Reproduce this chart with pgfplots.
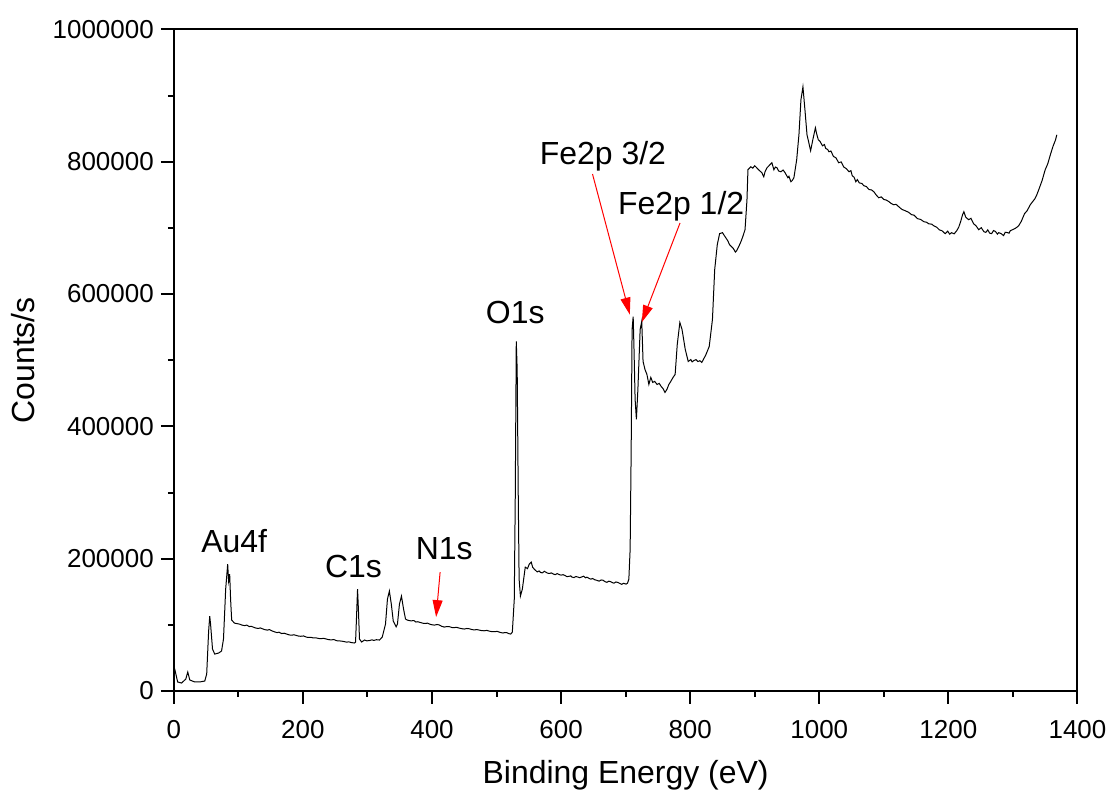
\documentclass[border=0pt]{standalone}
\usepackage{fontspec}
\setmainfont{Liberation Sans}
\usepackage{pgfplots}
\pgfplotsset{compat=1.18}
\usetikzlibrary{arrows.meta}

\begin{document}
\begin{tikzpicture}
\begin{axis}[
  scale only axis, width=452.5pt, height=331.25pt,
  xmin=0, xmax=1400, ymin=0, ymax=1000000,
  xtick={0,200,...,1400}, ytick={0,200000,...,1000000},
  minor x tick num=1, minor y tick num=1,
  tick align=outside, tick pos=left,
  major tick length=6.5pt, minor tick length=3pt,
  axis line style={line width=1pt},
  every tick/.style={black, line width=1pt},
  scaled y ticks=false, scaled x ticks=false,
  /pgf/number format/fixed, /pgf/number format/1000 sep={},
  /pgf/number format/assume math mode=true,
  tick label style={font=\fontsize{13}{15}\selectfont},
  xticklabel style={yshift=-4.5pt},
  xlabel={Binding Energy (eV)}, ylabel={Counts/s},
  label style={font=\fontsize{16}{18}\selectfont},
  xlabel style={at={(axis description cs:0.5,-0.1404)}, anchor=base},
  ylabel style={at={(axis description cs:-0.1536,0.5)}, anchor=base},
  clip=false,
]
\addplot[black, line width=0.5pt] coordinates {
(0,36200) (1.5,33000) (6,13600) (12,12000) (18.6,18000) (21.7,28700) (24.8,16600)
(32.5,13600) (40,13600) (48,15000) (51,25700) (54,90600) (55.7,113000) (57,101000)
(60,63400) (63.4,55800) (69.6,57400) (74,60400) (77,78500) (80.4,154000) (83.5,191700)
(85,166000) (86.6,176600) (88,138900) (89.7,107200) (94,102600)
(102,101000) (106,99500) (110,98800) (113,99600) (117,97300) (120,97800) (124,96200)
(127,95100) (131,94500) (134,95300) (138,93800) (141,92700) (145,92000) (148,92800)
(152,90900) (156,89400) (160,88200) (163,88900) (167,86800) (171,87300) (175,86000)
(179,84700) (183,84300) (186,85000) (190,83900) (194,82800) (197,82700) (201,83200)
(205,81600) (208,80900) (212,81200) (216,80200) (220,80400) (224,79400) (228,79000)
(232,79600) (236,78600) (240,77600) (244,77200) (248,77800) (252,76000) (256,75700)
(260,75400) (264,74600) (268,73800) (271,74300) (275,73200) (280,72500)
(281.6,74000) (283,108700) (284.7,154000) (286,123800) (287.7,78500) (291,74000)
(295.5,77000) (299,75800) (303,76200) (307,77300) (310,76400) (314,77500) (318.7,77000)
(323,81500) (328,101000)
(331,138900) (334,151000) (337,131300) (340,105700) (344.5,97000) (346.5,101000)
(349.6,131300) (352.7,143400) (356,123800) (359,108700)
(362,107200) (365,106300) (368,106000) (372,106500) (375,104200) (378,104700)
(382,103500) (386,102400) (390,102000) (393,102600) (397,100800) (401,99900)
(404,99600) (408,100500) (411,99900) (415,97800) (419,96600) (423,97400) (427,97200)
(431,95900) (435,95800) (438,96300) (442,95100) (446,94200) (450,93600) (454,94500)
(458,94000) (462,92800) (466,92200) (469,92900) (473,92100) (477,91200) (481,91000)
(485,91600) (489,90400) (493,89700) (497,89600) (501,90100) (504,89100) (507,88200)
(510,87600) (513,88400) (516,88200) (519,86700) (522,86000) (524.5,89000)
(527.5,138900) (529,290000) (530.6,528300) (532,486000) (533.7,290000) (535,169000)
(537,143400) (540,154000) (544.5,187200) (548,185000) (550.7,191700) (553.8,194700)
(556,187000) (558.5,184100) (563,180000) (566,181500) (568,179200) (571,178500)
(574,180900) (576,179800) (579,178100) (582,177600) (585,178500) (588,176800)
(591,175800) (594,177500) (597,176000) (600,175100) (603,175800) (606,174600)
(609,172900) (612,173200) (615,174000) (617,172100) (620,171400) (623,173000)
(626,172200) (629,171200) (632,172400) (635,173500) (638,171000) (640,172100)
(643,170400) (646,169000) (649,170000) (652,168200) (655,167400) (659,166000)
(662,167800) (665,167400) (668,165300) (671,164200) (674,166000) (677,165100)
(680,163600) (682,163000) (685,164800) (688,164000) (691,162500) (694,161200)
(697,162800) (700.8,161500) (703,163000) (705,169000)
(707,214300) (708.6,365300) (710,546400) (711.7,566000) (713,516200) (714.7,440700)
(716.7,410600) (719,455800) (722.5,546400) (725,558900) (727,498100) (730,486000)
(733,478500) (736,463400) (739,474000) (742,466400) (745,468000) (748.7,463400)
(752,465000) (755,460400) (758,457000) (761,451300) (764,456000) (767,463400)
(770,468000) (773.5,474000) (776.7,478500) (780,523800) (784,557000) (787.4,546400)
(792.4,516200) (797,498100) (801,501000) (803,497500) (806,499600) (809,500800)
(812,498000) (815,499200) (818,496600) (821,502000) (824.5,508700)
(829.5,520700) (834.5,561500) (838,637000) (842,674700) (845.6,691300) (850,692800)
(855,685300) (858,681000) (861,674700) (864,671800) (867,668700) (870,663500) (872,665600)
(876.6,674700) (879,680000) (881.5,686800) (885,697300) (888,742600) (889.5,787900)
(894,792400) (897,790300) (900,794000) (903,791000) (906,787900)
(911,783400) (914,777300) (916,785000) (919,790900) (923.5,795400) (926.6,798500)
(929.7,787900) (932,792000) (934.6,790900) (937,786000) (940.6,784900) (944,787500)
(947,783400) (951.4,775800) (953,778000) (956,769800) (958,771500) (960.7,775800)
(965,803000) (968.5,840700) (971.6,893600) (974.7,913200) (977.8,878500) (981,840700)
(984,828000) (986.6,816600) (990,833200) (994,851300) (996,842000) (998.5,833200)
(1001,831000) (1005,824100) (1008,826000) (1010,820000) (1013,818500) (1015,815100)
(1018,816200) (1022,808000) (1026,805800) (1030,798500) (1034,799800) (1038,792000)
(1042,789500) (1046,784900) (1049,786500) (1051,779000) (1054,776500) (1056.6,769800)
(1059,773000) (1062,768000) (1066,767200) (1069,763800) (1073,762500) (1077,758000)
(1081,757400) (1084.5,754700) (1088,750000) (1092,745600) (1096,746800) (1100,743000)
(1104,742000) (1108,739600) (1111,737200) (1115,735000) (1119,735600) (1123,732100)
(1128,728000) (1133,726000) (1138,723800) (1143,720000) (1147,719200) (1152,714000)
(1157,712800) (1162,709400) (1166,708600) (1170,706000) (1174,705800) (1177,703400)
(1182,701000) (1186,697000) (1190,695800) (1195,691300) (1199,695000) (1202,690500)
(1205,692800) (1209,691000) (1213,695800) (1216,701000) (1219,709400) (1222,720000)
(1224,724500) (1227,716000) (1231.5,712400) (1235,714500) (1239,706400) (1243,703000)
(1247,697300) (1251,700300) (1255,694300) (1258,693200) (1261,697000) (1264,692000)
(1267,691300) (1270,696000) (1273,694500) (1276,690600) (1278,692800) (1282,691200)
(1285.6,688300) (1288,693400) (1291,693000) (1294,692000) (1296,695800) (1300,697500)
(1303,699000) (1306,700800) (1309,703400) (1313,710000) (1318,721500) (1322,726000)
(1327,735100) (1330,739000) (1334,744000) (1337,750000) (1340,757700) (1345,771000)
(1350,787900) (1354,797000) (1358,810500) (1362,823000) (1366,833000) (1368,840700)
};
% annotations
\begin{scope}[font=\fontsize{16}{18}\selectfont]
\node[anchor=base] at (axis cs:93.6,209800) {Au4f};
\node[anchor=base] at (axis cs:278.5,171600) {C1s};
\node[anchor=base] at (axis cs:419,199200) {N1s};
\node[anchor=base] at (axis cs:529,555500) {O1s};
\node[anchor=base] at (axis cs:664.8,796500) {Fe2p 3/2};
\node[anchor=base] at (axis cs:786,721000) {Fe2p 1/2};
\end{scope}
\begin{scope}[red, line width=0.5pt, -{Triangle[length=8.5pt, width=5pt]}]
\draw (axis cs:412.6,179600) -- (axis cs:406.4,111700);
\draw (axis cs:648.7,781400) -- (axis cs:706.5,569000);
\draw (axis cs:784.3,707500) -- (axis cs:725.1,557400);
\end{scope}
% page frame matching the reference margins
\path (rel axis cs:-0.1923,-0.1585) rectangle (rel axis cs:1.0376,1.0445);
\end{axis}
\end{tikzpicture}
\end{document}
